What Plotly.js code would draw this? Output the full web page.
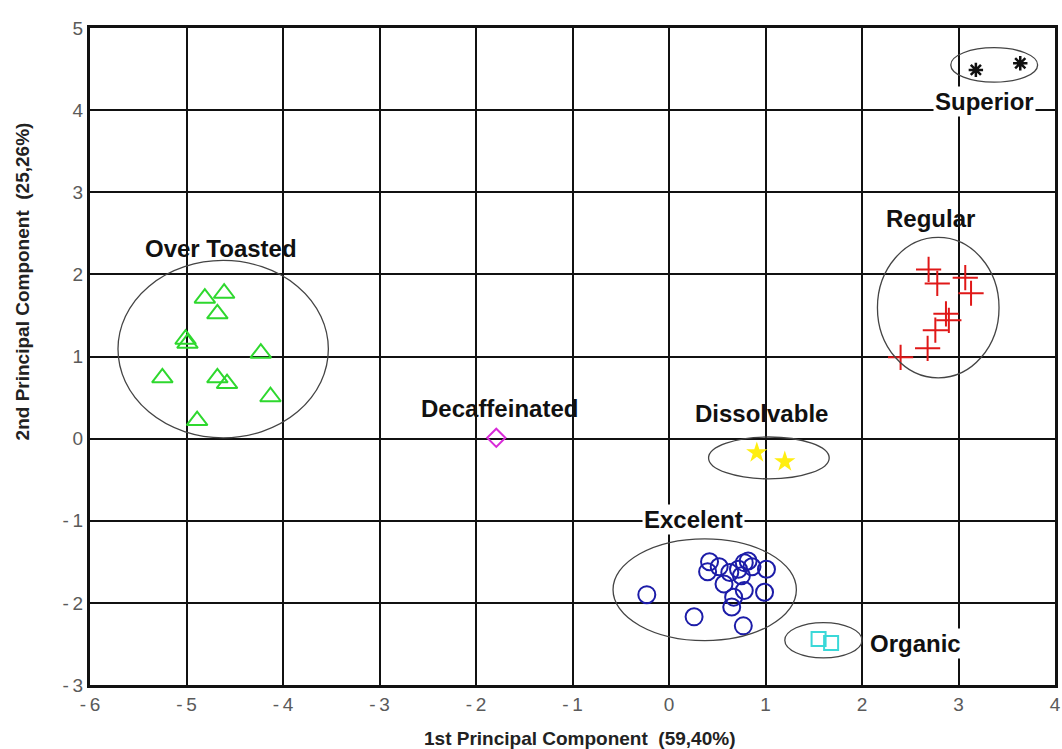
<!DOCTYPE html>
<html><head><meta charset="utf-8">
<script src="https://cdn.plot.ly/plotly-3.0.1.min.js"></script>
<style>html,body{margin:0;padding:0;background:#fff}#c{width:1062px;height:749px}</style>
</head><body><div id="c"></div>
<script>
// Over Toasted (green triangles)
const overX = [-4.81,-4.61,-4.68,-5.01,-4.99,-4.23,-5.25,-4.68,-4.58,-4.13,-4.89];
const overY = [1.71,1.77,1.52,1.21,1.16,1.04,0.74,0.74,0.67,0.51,0.22];
// Regular (red crosses)
const regX = [2.69,2.78,3.07,3.13,2.87,2.90,2.76,2.68,2.40];
const regY = [2.06,1.89,1.96,1.77,1.52,1.44,1.32,1.10,0.99];
// Excelent (blue circles)
const excX = [-0.23,0.26,0.77,0.65,0.99,1.01,0.57,0.42,0.40,0.52,0.72,0.78,0.82,0.75,0.67,0.78,0.86,0.63];
const excY = [-1.90,-2.17,-2.28,-2.05,-1.87,-1.59,-1.77,-1.50,-1.62,-1.56,-1.59,-1.51,-1.49,-1.67,-1.93,-1.85,-1.56,-1.63];
// Organic (cyan squares)
const orgX = [1.55,1.68];
const orgY = [-2.44,-2.49];
// Dissolvable (yellow stars)
const disX = [0.91,1.20];
const disY = [-0.17,-0.28];
// Superior (black asterisks)
const supX = [3.18,3.64];
const supY = [4.49,4.57];
// Decaffeinated (magenta diamond)
const decX = [-1.79];
const decY = [0.01];

// Group ellipses: [x0, x1, y0, y1]
const ellOver = [-5.71,-3.53,0.01,2.17];
const ellReg = [2.16,3.42,0.74,2.45];
const ellSup = [2.92,3.82,4.34,4.76];
const ellDis = [0.41,1.66,-0.49,0.02];
const ellExc = [-0.58,1.32,-2.46,-1.22];
const ellOrg = [1.20,2.00,-2.67,-2.24];

// Group labels
const labelText = ["Over Toasted","Decaffeinated","Dissolvable","Excelent","Superior","Regular","Organic"];
const labelX = [-4.64,-1.76,0.96,0.25,3.27,2.71,2.55];
const labelY = [2.32,0.37,0.30,-0.99,4.10,2.68,-2.50];
const labelBg = [false,false,false,true,true,false,true];

// Ticks
const xTicks = [-6,-5,-4,-3,-2,-1,0,1,2,3,4];
const yTicks = [-3,-2,-1,0,1,2,3,4,5];
const xTitle = '1st Principal Component  (59,40%)';
const yTitle = '2nd Principal Component  (25,26%)';

const tickFont = {family:'Liberation Sans, Arial, sans-serif',size:19,color:'#5a5a5a'};
const titleFont = {family:'Liberation Sans, Arial, sans-serif',size:19,color:'#222',weight:'bold'};
const fmt = v => v<0 ? '-\u2009'+Math.abs(v) : String(v);

function sc(x,y,sym,color,size,lw){
  return {x:x,y:y,type:'scatter',mode:'markers',showlegend:false,hoverinfo:'skip',
    marker:{symbol:sym,size:size,color:color,line:{color:color,width:lw}}};
}
const data = [
  sc(overX,overY,'triangle-up-open','#2ed82e',18,2),
  sc(regX,regY,'cross-thin-open','#e01818',18,2),
  sc(excX,excY,'circle-open','#1c1ca8',17,2),
  sc(orgX,orgY,'square-open','#3ad8d8',14,2),
  {x:disX,y:disY,type:'scatter',mode:'markers',showlegend:false,hoverinfo:'skip',
    marker:{symbol:'star',size:16,color:'#ffee10',line:{width:0}}},
  sc(supX,supY,'asterisk-open','#111111',12,2.5),
  sc(decX,decY,'diamond-open','#d82ad8',14,2)
];
const ells = [ellOver,ellReg,ellSup,ellDis,ellExc,ellOrg];
const shapes = ells.map(e=>({type:'circle',xref:'x',yref:'y',x0:e[0],x1:e[1],y0:e[2],y1:e[3],
  line:{color:'#444',width:1.3},layer:'above'}));
const annotations = labelText.map((t,i)=>({x:labelX[i],y:labelY[i],xref:'x',yref:'y',text:t,showarrow:false,
  font:{family:'Liberation Sans, Arial, sans-serif',size:24,color:'#111',weight:'bold'},
  bgcolor:labelBg[i]?'#ffffff':'rgba(0,0,0,0)',borderpad:1}));
annotations.push({xref:'paper',yref:'paper',x:0.507,y:-0.081,text:xTitle,showarrow:false,
  xanchor:'center',yanchor:'middle',font:titleFont});
annotations.push({xref:'paper',yref:'paper',x:-0.070,y:0.615,text:yTitle,showarrow:false,textangle:-90,
  xanchor:'center',yanchor:'middle',font:titleFont});

const layout = {
  width:1062,height:749,
  margin:{l:90,r:7,t:28,b:64},
  paper_bgcolor:'#fff',plot_bgcolor:'#fff',
  showlegend:false,
  xaxis:{range:[-6,4],tickvals:xTicks,ticktext:xTicks.map(fmt),ticklabeloverflow:'allow',
    showgrid:true,gridcolor:'#111',gridwidth:2,zeroline:false,
    showline:true,linecolor:'#111',linewidth:3,mirror:true,
    ticks:'',tickfont:tickFont,automargin:false},
  yaxis:{range:[-3,5],tickvals:yTicks,ticktext:yTicks.map(fmt),ticklabeloverflow:'allow',
    showgrid:true,gridcolor:'#111',gridwidth:2,zeroline:false,
    showline:true,linecolor:'#111',linewidth:3,mirror:true,
    ticks:'',tickfont:tickFont,automargin:false},
  shapes:shapes,
  annotations:annotations
};
Plotly.newPlot('c',data,layout,{staticPlot:true,displayModeBar:false});
</script>
</body></html>
